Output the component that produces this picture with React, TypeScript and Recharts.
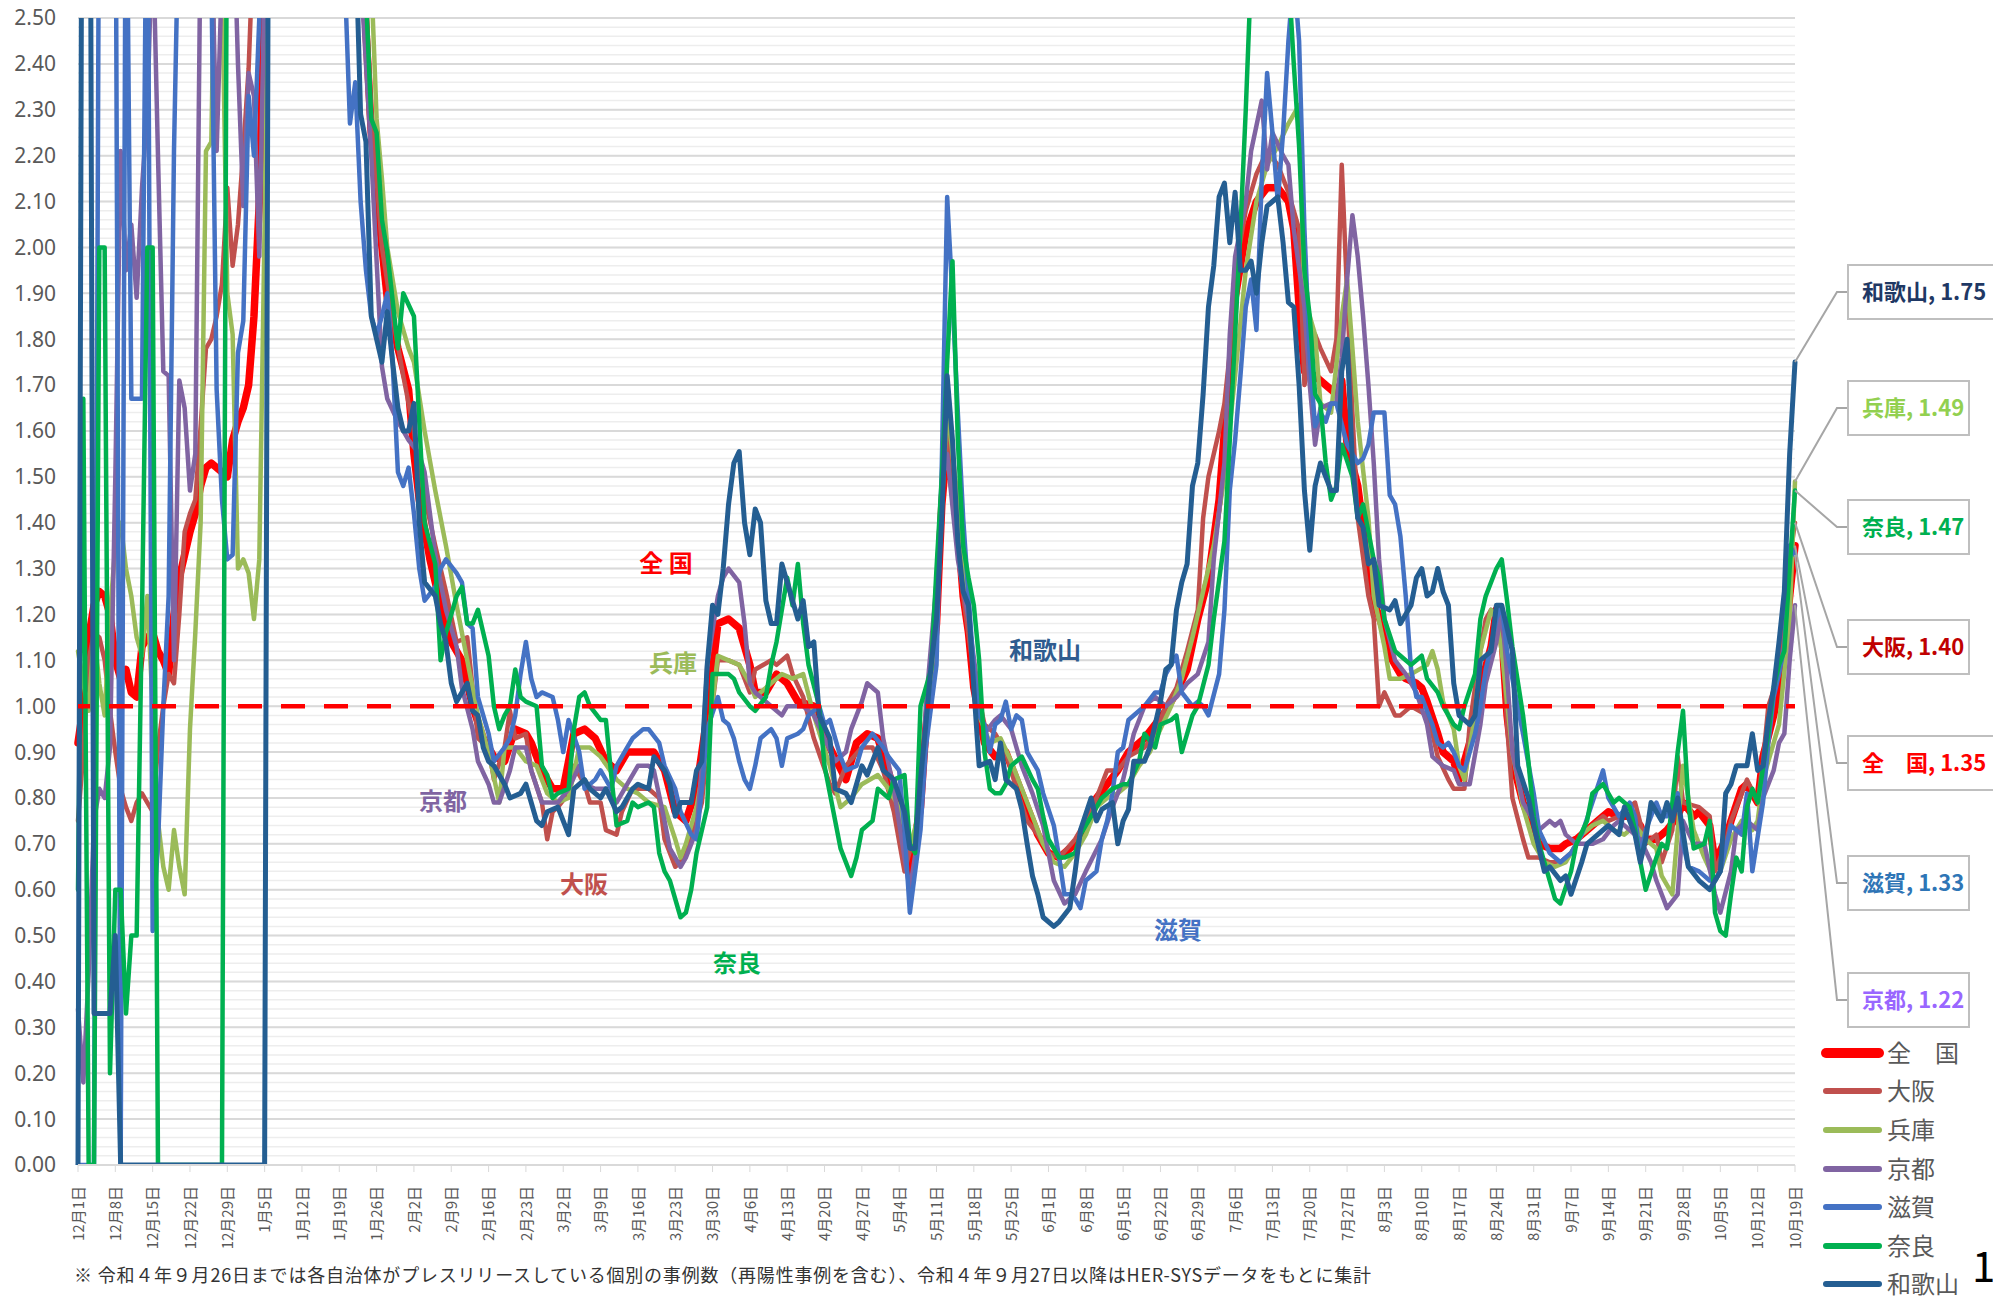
import React from 'react';
import { LineChart, Line, XAxis, YAxis, CartesianGrid, ReferenceLine } from 'recharts';

type P = [number, number];

// day index 0 = 12月1日 ... 322 = 10月19日
const zenkoku: P[] = [[0,0.92],[1,1.0],[2,1.15],[3,1.22],[4,1.25],[5,1.24],[6,1.2],[7,1.1],[8,1.06],[9,1.08],[10,1.03],[11,1.02],[12,1.13],[13,1.15],[14,1.16],[15,1.12],[16,1.1],[17,1.07],[18,1.2],[19,1.28],[20,1.33],[21,1.38],[22,1.42],[23,1.48],[24,1.52],[25,1.53],[26,1.52],[27,1.51],[28,1.5],[29,1.58],[30,1.62],[31,1.65],[32,1.7],[33,1.85],[34,2.1],[35,2.6],[36,3.0],[40,3.5],[45,3.6],[50,3.2],[53,2.7],[55,2.25],[57,2.0],[58,1.89],[60,1.78],[62,1.69],[63,1.55],[64,1.45],[66,1.32],[68,1.22],[70,1.14],[72,1.1],[74,1.0],[76,0.93],[78,0.89],[80,0.88],[82,0.95],[84,0.94],[85,0.92],[87,0.86],[89,0.82],[91,0.82],[93,0.94],[95,0.95],[97,0.93],[99,0.88],[101,0.86],[103,0.9],[106,0.9],[108,0.9],[110,0.86],[112,0.77],[114,0.75],[116,0.82],[118,0.98],[120,1.18],[122,1.19],[124,1.17],[126,1.09],[127,1.03],[129,1.03],[131,1.07],[133,1.05],[135,1.01],[138,1.0],[141,0.91],[144,0.84],[146,0.92],[148,0.94],[150,0.93],[153,0.82],[155,0.72],[156,0.64],[158,0.78],[159,0.95],[161,1.18],[162,1.44],[163,1.57],[165,1.39],[166,1.24],[167,1.16],[168,1.04],[170,0.92],[172,0.89],[174,0.9],[176,0.84],[178,0.78],[180,0.72],[182,0.68],[184,0.67],[187,0.7],[189,0.74],[191,0.8],[193,0.83],[195,0.86],[197,0.9],[200,0.93],[202,0.96],[204,0.99],[206,1.03],[208,1.08],[210,1.19],[212,1.28],[214,1.45],[215,1.6],[216,1.72],[217,1.89],[219,2.03],[221,2.1],[223,2.13],[225,2.13],[227,2.1],[228,2.04],[229,1.87],[230,1.73],[232,1.72],[234,1.7],[236,1.68],[237,1.71],[238,1.57],[240,1.48],[241,1.39],[242,1.3],[243,1.23],[245,1.16],[246,1.11],[248,1.07],[249,1.06],[251,1.05],[252,1.04],[253,1.01],[255,0.94],[256,0.9],[258,0.88],[259,0.84],[261,0.92],[262,0.98],[263,1.04],[265,1.13],[266,1.21],[267,1.16],[268,0.98],[269,0.88],[271,0.79],[273,0.73],[274,0.7],[276,0.69],[278,0.69],[279,0.7],[281,0.71],[283,0.73],[285,0.75],[287,0.77],[289,0.76],[291,0.76],[293,0.74],[294,0.71],[296,0.71],[298,0.73],[300,0.76],[301,0.79],[303,0.76],[304,0.77],[306,0.74],[307,0.66],[309,0.71],[310,0.75],[312,0.82],[313,0.83],[315,0.79],[316,0.89],[318,0.98],[319,1.04],[320,1.12],[321,1.24],[322,1.35]];

const osaka: P[] = [[0,0.75],[1,0.9],[2,1.1],[3,1.16],[4,1.15],[5,1.1],[6,0.99],[7,0.9],[8,0.82],[9,0.78],[10,0.75],[11,0.79],[12,0.81],[13,0.79],[14,0.77],[15,0.91],[16,1.0],[17,1.07],[18,1.05],[19,1.2],[20,1.38],[21,1.42],[22,1.45],[23,1.61],[24,1.78],[25,1.8],[26,1.85],[27,1.92],[28,2.13],[29,1.96],[30,2.05],[31,2.21],[32,2.39],[33,2.7],[34,3.0],[40,3.6],[45,3.7],[50,3.3],[53,2.8],[55,2.3],[57,2.0],[59,1.85],[61,1.72],[63,1.6],[64,1.51],[67,1.35],[69,1.25],[71,1.14],[73,1.15],[74,1.04],[75,0.93],[77,0.91],[78,0.84],[80,0.91],[81,0.99],[82,0.93],[84,0.94],[85,0.86],[87,0.79],[88,0.71],[89,0.77],[90,0.78],[92,0.81],[93,0.87],[95,0.83],[96,0.79],[98,0.79],[99,0.73],[101,0.72],[102,0.77],[104,0.82],[107,0.82],[109,0.8],[110,0.71],[112,0.65],[113,0.66],[115,0.71],[117,0.79],[118,0.91],[120,1.1],[122,1.1],[124,1.09],[126,1.03],[127,1.08],[130,1.1],[131,1.09],[133,1.11],[134,1.07],[136,1.02],[138,0.93],[141,0.83],[142,0.81],[144,0.87],[147,0.91],[149,0.91],[151,0.86],[153,0.77],[155,0.64],[157,0.73],[159,0.91],[160,1.09],[161,1.27],[162,1.45],[163,1.6],[164,1.45],[165,1.35],[166,1.24],[168,1.07],[170,0.96],[172,0.94],[174,0.9],[176,0.82],[178,0.75],[180,0.72],[182,0.68],[184,0.67],[187,0.71],[189,0.75],[191,0.8],[193,0.86],[195,0.86],[197,0.89],[200,0.91],[202,0.94],[204,1.0],[206,1.04],[208,1.12],[210,1.21],[211,1.41],[212,1.5],[214,1.6],[215,1.66],[216,1.77],[217,1.95],[219,2.08],[221,2.16],[223,2.21],[225,2.18],[227,2.12],[229,2.04],[230,1.7],[232,1.81],[233,1.78],[235,1.73],[236,1.8],[237,2.18],[238,1.9],[239,1.64],[240,1.41],[242,1.24],[243,1.19],[244,1.0],[245,1.03],[247,0.98],[248,0.98],[250,1.0],[253,0.98],[254,0.94],[255,0.89],[257,0.84],[258,0.82],[260,0.82],[261,0.96],[263,1.12],[264,1.19],[265,1.21],[267,1.19],[268,0.96],[269,0.8],[271,0.71],[272,0.67],[274,0.67],[276,0.66],[278,0.66],[280,0.68],[282,0.72],[284,0.74],[286,0.76],[287,0.75],[289,0.76],[291,0.78],[292,0.79],[294,0.7],[296,0.72],[297,0.66],[299,0.73],[300,0.89],[301,0.79],[304,0.78],[306,0.76],[307,0.64],[309,0.7],[310,0.75],[312,0.81],[313,0.84],[315,0.79],[316,0.88],[317,1.0],[319,1.07],[320,1.19],[321,1.32],[322,1.4]];

const hyogo: P[] = [[0,1.12],[1,1.05],[2,0.99],[3,1.16],[4,1.05],[5,0.98],[6,1.2],[7,1.35],[8,1.4],[9,1.3],[10,1.24],[11,1.15],[12,1.11],[13,1.24],[14,1.0],[15,0.75],[16,0.65],[17,0.6],[18,0.73],[19,0.65],[20,0.59],[21,0.95],[22,1.16],[23,1.4],[24,2.21],[25,2.23],[26,2.9],[27,2.6],[28,1.9],[29,1.81],[30,1.3],[31,1.32],[32,1.29],[33,1.19],[34,1.32],[35,2.05],[36,3.0],[40,3.5],[45,3.6],[50,3.4],[54,2.9],[56,2.28],[57,2.15],[58,2.0],[60,1.86],[62,1.78],[63,1.75],[65,1.6],[67,1.47],[69,1.35],[71,1.22],[73,1.1],[75,0.98],[77,0.9],[79,0.79],[80,0.91],[82,0.91],[84,0.88],[86,0.87],[88,0.81],[90,0.79],[92,0.8],[94,0.91],[96,0.91],[98,0.89],[101,0.84],[103,0.82],[105,0.81],[107,0.79],[110,0.78],[112,0.71],[113,0.67],[114,0.7],[116,0.78],[118,0.91],[120,1.11],[122,1.1],[124,1.09],[126,1.05],[127,1.02],[130,1.05],[132,1.07],[134,1.06],[136,1.07],[138,0.98],[141,0.87],[143,0.78],[145,0.8],[147,0.83],[150,0.85],[152,0.82],[154,0.78],[156,0.69],[158,0.78],[159,0.95],[161,1.18],[162,1.44],[163,1.65],[165,1.45],[167,1.2],[169,0.98],[171,0.92],[173,0.93],[175,0.88],[177,0.82],[179,0.76],[181,0.7],[183,0.66],[185,0.65],[187,0.68],[189,0.72],[191,0.78],[193,0.8],[195,0.81],[197,0.83],[199,0.87],[201,0.9],[203,0.95],[205,1.0],[207,1.06],[209,1.15],[211,1.25],[213,1.35],[215,1.5],[217,1.72],[219,1.95],[221,2.1],[223,2.18],[225,2.22],[227,2.27],[229,2.31],[230,1.89],[232,1.81],[233,1.66],[235,1.64],[237,1.85],[238,1.93],[239,1.78],[240,1.62],[242,1.41],[243,1.24],[245,1.13],[246,1.06],[248,1.06],[250,1.07],[253,1.09],[254,1.12],[255,1.08],[256,1.01],[258,0.95],[259,0.87],[260,0.84],[262,0.98],[263,1.12],[265,1.21],[266,1.19],[267,1.12],[269,0.9],[271,0.78],[273,0.7],[275,0.66],[277,0.65],[279,0.66],[281,0.7],[282,0.72],[284,0.74],[286,0.75],[288,0.73],[290,0.72],[292,0.74],[294,0.71],[296,0.69],[297,0.63],[299,0.59],[300,0.73],[301,0.87],[303,0.73],[305,0.67],[307,0.62],[308,0.64],[310,0.71],[312,0.75],[314,0.73],[315,0.75],[316,0.84],[318,0.92],[319,0.96],[321,1.19],[322,1.49]];

const kyoto: P[] = [[0,0.34],[1,0.18],[2,0.42],[3,0.75],[4,0.82],[5,0.8],[6,0.91],[7,1.5],[8,2.21],[9,1.95],[10,2.05],[11,1.89],[12,2.13],[13,2.3],[14,2.7],[15,2.2],[16,1.73],[17,1.72],[18,1.1],[19,1.71],[20,1.65],[21,1.47],[22,1.55],[23,2.7],[24,3.0],[25,2.7],[26,2.21],[27,2.6],[28,3.0],[29,2.8],[30,2.4],[31,2.09],[32,2.38],[33,2.33],[34,1.98],[35,2.6],[36,3.0],[40,3.6],[45,3.7],[50,3.2],[53,2.6],[55,2.2],[57,1.74],[58,1.67],[60,1.62],[62,1.58],[64,1.55],[65,1.51],[67,1.33],[69,1.21],[71,1.13],[72,1.04],[74,0.95],[75,0.88],[77,0.83],[78,0.79],[79,0.79],[81,0.86],[82,0.91],[84,0.91],[85,0.86],[87,0.79],[88,0.79],[90,0.79],[92,0.82],[94,0.87],[95,0.83],[97,0.82],[99,0.82],[101,0.79],[103,0.83],[105,0.87],[107,0.87],[108,0.86],[110,0.75],[111,0.69],[113,0.65],[114,0.67],[116,0.73],[117,0.87],[118,1.09],[120,1.24],[121,1.28],[122,1.3],[124,1.27],[125,1.18],[126,1.05],[127,1.03],[129,1.01],[130,1.0],[132,0.98],[133,1.0],[136,1.0],[138,0.98],[140,0.93],[142,0.88],[144,0.9],[145,0.95],[147,1.01],[148,1.05],[150,1.03],[151,0.93],[153,0.82],[155,0.67],[156,0.6],[158,0.75],[159,1.0],[161,1.27],[162,1.49],[163,1.55],[165,1.32],[167,1.19],[169,1.02],[170,0.94],[172,0.97],[173,0.98],[175,0.95],[177,0.87],[179,0.81],[181,0.74],[183,0.62],[185,0.57],[187,0.59],[189,0.64],[192,0.71],[194,0.78],[196,0.84],[198,0.94],[200,1.0],[202,1.02],[204,1.0],[206,1.02],[208,1.05],[210,1.07],[212,1.14],[213,1.32],[215,1.53],[216,1.81],[217,1.98],[219,2.1],[220,2.21],[222,2.32],[223,2.17],[224,2.25],[226,2.2],[227,2.18],[228,2.04],[230,1.87],[231,1.7],[232,1.57],[233,1.65],[235,1.66],[236,1.66],[237,1.76],[238,1.93],[239,2.07],[240,1.98],[241,1.85],[242,1.7],[243,1.53],[244,1.32],[245,1.19],[247,1.1],[249,1.07],[251,1.03],[253,0.96],[254,0.89],[256,0.87],[258,0.86],[259,0.83],[261,0.83],[263,0.96],[264,1.05],[266,1.14],[267,1.21],[268,1.07],[269,0.9],[271,0.79],[274,0.73],[276,0.75],[277,0.74],[278,0.75],[279,0.72],[281,0.7],[283,0.7],[284,0.7],[286,0.71],[288,0.74],[289,0.75],[291,0.73],[293,0.71],[295,0.66],[296,0.62],[298,0.56],[300,0.59],[301,0.75],[303,0.7],[305,0.7],[307,0.59],[308,0.55],[310,0.64],[311,0.73],[313,0.75],[315,0.73],[316,0.8],[318,0.86],[319,0.92],[320,0.94],[321,1.1],[322,1.22]];

const shiga: P[] = [[0,0],[1,0],[2,0],[3,0],[4,3.0],[5,3.5],[6,3.5],[7,3.0],[8,0],[9,3.0],[10,1.67],[11,1.67],[12,1.67],[13,3.0],[14,0.51],[15,0.7],[16,1.0],[17,1.24],[18,2.21],[19,2.8],[20,3.0],[22,3.0],[24,2.8],[25,2.6],[26,1.69],[27,1.45],[28,1.32],[29,1.33],[30,1.77],[31,1.84],[32,2.33],[33,2.2],[34,2.5],[35,3.0],[40,3.6],[45,3.7],[49,3.2],[50,2.6],[51,2.27],[52,2.36],[53,2.1],[54,1.95],[55,1.85],[56,1.81],[57,1.85],[58,1.9],[59,1.75],[60,1.51],[61,1.48],[62,1.52],[63,1.42],[64,1.3],[65,1.23],[67,1.26],[68,1.3],[69,1.32],[71,1.29],[72,1.27],[73,1.18],[74,1.17],[75,1.02],[77,0.94],[78,0.88],[80,0.91],[81,0.93],[82,0.98],[83,1.07],[84,1.14],[85,1.06],[86,1.02],[87,1.03],[89,1.02],[90,0.97],[91,0.9],[92,0.97],[94,0.9],[95,0.82],[97,0.84],[98,0.86],[100,0.82],[101,0.87],[103,0.91],[104,0.93],[106,0.95],[107,0.95],[109,0.92],[110,0.87],[112,0.82],[113,0.77],[115,0.72],[116,0.71],[117,0.82],[118,0.95],[120,1.02],[121,0.97],[122,0.96],[123,0.93],[124,0.88],[125,0.84],[126,0.82],[127,0.87],[128,0.93],[130,0.95],[131,0.93],[132,0.87],[133,0.93],[135,0.94],[136,0.95],[137,0.98],[139,1.0],[140,0.96],[141,0.97],[143,0.89],[144,0.86],[146,0.87],[147,0.91],[149,0.94],[151,0.91],[152,0.89],[154,0.86],[155,0.73],[156,0.55],[158,0.73],[159,0.91],[160,1.0],[161,1.09],[162,1.53],[163,2.11],[164,1.89],[165,1.64],[166,1.41],[167,1.24],[168,1.08],[169,0.98],[170,0.96],[171,0.9],[172,0.96],[173,0.97],[174,1.01],[175,0.95],[176,0.98],[177,0.97],[178,0.9],[179,0.88],[180,0.86],[181,0.81],[183,0.74],[184,0.67],[185,0.59],[186,0.59],[187,0.58],[188,0.56],[189,0.62],[190,0.63],[191,0.64],[192,0.71],[193,0.75],[194,0.81],[195,0.9],[196,0.91],[197,0.97],[199,0.99],[200,1.0],[202,1.03],[203,1.03],[204,1.07],[206,1.11],[207,1.03],[209,1.0],[210,1.01],[211,1.0],[212,0.98],[214,1.07],[215,1.21],[216,1.47],[217,1.58],[218,1.72],[219,1.87],[220,1.93],[221,1.82],[222,2.15],[223,2.38],[224,2.25],[225,2.1],[226,2.25],[227,2.45],[228,2.6],[229,2.45],[230,2.04],[231,1.76],[232,1.61],[233,1.64],[234,1.62],[235,1.66],[236,1.66],[238,1.57],[240,1.53],[241,1.54],[242,1.57],[243,1.64],[245,1.64],[246,1.46],[247,1.44],[248,1.37],[249,1.24],[250,1.08],[251,1.02],[252,1.02],[253,0.99],[254,0.96],[255,0.92],[256,0.91],[257,0.92],[258,0.9],[259,0.87],[260,0.86],[261,0.9],[262,0.94],[263,1.0],[264,1.08],[265,1.13],[266,1.19],[267,1.22],[268,1.12],[270,1.0],[271,0.94],[273,0.81],[274,0.73],[276,0.68],[278,0.66],[280,0.68],[282,0.72],[284,0.79],[286,0.86],[287,0.8],[289,0.76],[291,0.79],[292,0.76],[293,0.67],[294,0.73],[296,0.79],[297,0.76],[298,0.76],[300,0.81],[301,0.7],[302,0.65],[304,0.64],[306,0.62],[307,0.62],[308,0.64],[310,0.74],[312,0.72],[313,0.81],[314,0.64],[316,0.79],[317,0.92],[318,1.02],[319,1.07],[320,1.13],[321,1.35],[322,1.33]];

const nara: P[] = [[0,0.6],[1,1.67],[2,0],[3,0],[4,2.0],[5,2.0],[6,0.2],[7,0.6],[8,0.6],[9,0.33],[10,0.5],[11,0.5],[12,1.2],[13,2.0],[14,2.0],[15,0],[20,0],[27,0],[28,3.0],[35,3.5],[40,3.6],[45,3.7],[50,3.5],[53,2.9],[54,2.55],[55,2.28],[56,2.25],[57,2.06],[58,1.99],[60,1.78],[61,1.9],[63,1.85],[64,1.62],[65,1.4],[67,1.31],[68,1.1],[69,1.16],[71,1.24],[72,1.26],[73,1.18],[74,1.18],[75,1.21],[77,1.11],[78,1.0],[79,0.95],[80,0.98],[81,1.0],[82,1.08],[83,1.02],[84,1.01],[86,1.0],[87,0.87],[88,0.85],[89,0.8],[90,0.81],[92,0.82],[93,0.95],[94,1.02],[95,1.03],[96,1.0],[98,0.97],[99,0.97],[100,0.85],[101,0.74],[103,0.75],[104,0.79],[105,0.78],[107,0.79],[108,0.78],[109,0.68],[110,0.64],[111,0.62],[113,0.54],[114,0.55],[115,0.6],[116,0.68],[118,0.78],[119,1.07],[120,1.07],[122,1.07],[123,1.06],[124,1.03],[126,1.0],[127,0.99],[129,1.02],[130,1.09],[131,1.14],[133,1.28],[134,1.22],[135,1.31],[136,1.18],[137,1.09],[139,1.0],[140,0.87],[142,0.75],[143,0.69],[145,0.63],[146,0.67],[147,0.73],[149,0.75],[150,0.82],[152,0.8],[153,0.84],[155,0.85],[156,0.7],[157,0.68],[158,1.0],[160,1.08],[161,1.3],[162,1.5],[163,1.75],[164,1.97],[165,1.58],[166,1.35],[167,1.28],[168,1.22],[169,1.1],[170,0.9],[171,0.82],[172,0.81],[173,0.81],[174,0.83],[175,0.87],[176,0.88],[177,0.89],[179,0.84],[180,0.82],[181,0.76],[182,0.71],[184,0.67],[185,0.67],[187,0.68],[188,0.72],[189,0.74],[191,0.78],[192,0.8],[194,0.82],[196,0.83],[197,0.83],[199,0.88],[200,0.94],[202,0.91],[203,0.96],[205,0.97],[206,0.98],[207,0.9],[209,0.98],[210,1.0],[212,1.09],[213,1.19],[215,1.36],[216,1.58],[217,1.81],[218,2.04],[219,2.3],[220,2.6],[221,3.0],[224,3.2],[226,3.0],[227,2.6],[228,2.4],[229,2.22],[230,1.95],[231,1.85],[232,1.68],[233,1.66],[234,1.53],[235,1.45],[236,1.48],[237,1.57],[239,1.5],[240,1.41],[241,1.44],[243,1.32],[244,1.28],[245,1.19],[247,1.12],[248,1.11],[250,1.09],[252,1.11],[253,1.06],[255,1.03],[256,1.0],[258,0.96],[259,0.95],[260,1.0],[262,1.07],[263,1.19],[264,1.24],[266,1.3],[267,1.32],[268,1.23],[269,1.13],[271,0.98],[272,0.88],[273,0.76],[274,0.7],[276,0.62],[277,0.58],[278,0.57],[280,0.64],[281,0.7],[283,0.75],[284,0.81],[286,0.83],[287,0.81],[288,0.79],[289,0.8],[291,0.78],[292,0.73],[293,0.66],[294,0.6],[296,0.67],[297,0.7],[298,0.69],[299,0.79],[300,0.9],[301,0.99],[302,0.79],[303,0.69],[305,0.7],[306,0.75],[307,0.55],[308,0.51],[309,0.5],[310,0.59],[311,0.67],[312,0.64],[313,0.78],[314,0.82],[315,0.79],[317,0.94],[318,1.04],[319,1.09],[320,1.12],[321,1.3],[322,1.47]];

const wakayama: P[] = [[0,0],[1,4.0],[2,4.0],[3,0.33],[4,0.33],[5,0.33],[6,0.33],[7,0.5],[8,0],[15,0],[22,0],[29,0],[35,0],[36,4.0],[40,4.0],[45,4.0],[50,3.8],[52,2.7],[53,2.29],[54,2.23],[55,1.85],[56,1.8],[57,1.75],[58,1.86],[59,1.75],[60,1.65],[61,1.6],[62,1.6],[63,1.66],[64,1.4],[65,1.27],[67,1.24],[68,1.18],[69,1.14],[70,1.05],[71,1.01],[73,1.05],[74,0.99],[75,0.98],[76,0.91],[77,0.88],[78,0.87],[80,0.83],[81,0.8],[83,0.81],[84,0.83],[86,0.75],[87,0.74],[88,0.77],[90,0.78],[92,0.72],[93,0.82],[95,0.84],[96,0.82],[98,0.8],[99,0.82],[101,0.77],[102,0.78],[104,0.82],[105,0.83],[107,0.82],[108,0.89],[110,0.86],[111,0.83],[112,0.76],[113,0.79],[115,0.79],[116,0.86],[117,0.88],[118,1.09],[119,1.22],[120,1.2],[121,1.3],[122,1.44],[123,1.53],[124,1.555],[125,1.4],[126,1.33],[127,1.43],[128,1.4],[129,1.23],[130,1.18],[131,1.18],[132,1.31],[134,1.23],[135,1.19],[136,1.23],[137,1.13],[138,1.14],[139,0.98],[141,0.93],[142,0.82],[144,0.81],[145,0.79],[147,0.87],[148,0.85],[150,0.91],[151,0.86],[153,0.84],[155,0.77],[156,0.69],[157,0.69],[158,0.84],[159,0.96],[160,1.09],[161,1.19],[162,1.41],[163,1.72],[164,1.58],[165,1.36],[166,1.25],[167,1.22],[168,1.04],[169,0.87],[171,0.88],[172,0.84],[173,0.92],[174,0.84],[176,0.82],[177,0.775],[178,0.7],[179,0.63],[180,0.59],[181,0.54],[183,0.52],[184,0.53],[186,0.56],[187,0.64],[188,0.73],[190,0.8],[191,0.75],[192,0.775],[194,0.79],[195,0.7],[196,0.75],[197,0.775],[198,0.88],[200,0.88],[201,0.91],[202,0.96],[203,1.01],[204,1.08],[205,1.09],[206,1.21],[207,1.27],[208,1.31],[209,1.48],[210,1.53],[211,1.68],[212,1.87],[213,1.96],[214,2.11],[215,2.14],[216,2.01],[217,2.12],[218,1.95],[219,1.95],[220,1.97],[221,1.9],[222,2.01],[223,2.09],[224,2.1],[225,2.11],[226,2.01],[227,1.88],[228,1.87],[229,1.7],[230,1.47],[231,1.34],[232,1.48],[233,1.53],[235,1.47],[236,1.47],[237,1.73],[238,1.8],[239,1.53],[240,1.41],[241,1.39],[242,1.31],[243,1.32],[244,1.22],[246,1.21],[247,1.23],[248,1.18],[250,1.22],[251,1.28],[252,1.3],[253,1.24],[254,1.25],[255,1.3],[256,1.25],[257,1.22],[258,1.05],[259,0.98],[261,0.96],[262,0.98],[263,1.1],[265,1.12],[266,1.22],[267,1.22],[269,1.12],[270,0.87],[272,0.8],[273,0.74],[275,0.64],[276,0.65],[278,0.62],[279,0.63],[280,0.59],[282,0.66],[283,0.7],[285,0.72],[287,0.74],[288,0.73],[289,0.72],[290,0.78],[292,0.72],[293,0.66],[294,0.71],[295,0.79],[297,0.75],[298,0.79],[299,0.75],[300,0.8],[302,0.65],[304,0.62],[305,0.61],[306,0.6],[308,0.64],[309,0.81],[310,0.83],[311,0.87],[313,0.87],[314,0.94],[315,0.86],[316,0.87],[317,0.97],[318,1.04],[319,1.14],[320,1.25],[321,1.55],[322,1.75]];

const xTickDays = [0,7,14,21,28,35,42,49,56,63,70,77,84,91,98,105,112,119,126,133,140,147,154,161,168,175,182,189,196,203,210,217,224,231,238,245,252,259,266,273,280,287,294,301,308,315,322];
const xTickLabels = ['12月1日','12月8日','12月15日','12月22日','12月29日','1月5日','1月12日','1月19日','1月26日','2月2日','2月9日','2月16日','2月23日','3月2日','3月9日','3月16日','3月23日','3月30日','4月6日','4月13日','4月20日','4月27日','5月4日','5月11日','5月18日','5月25日','6月1日','6月8日','6月15日','6月22日','6月29日','7月6日','7月13日','7月20日','7月27日','8月3日','8月10日','8月17日','8月24日','8月31日','9月7日','9月14日','9月21日','9月28日','10月5日','10月12日','10月19日'];
const yTicks = [0,0.1,0.2,0.3,0.4,0.5,0.6,0.7,0.8,0.9,1.0,1.1,1.2,1.3,1.4,1.5,1.6,1.7,1.8,1.9,2.0,2.1,2.2,2.3,2.4,2.5];
const yMinor = Array.from({ length: 126 }, (_, i) => Math.round(i * 2) / 100);

const FONT = '"Noto Sans CJK JP", "Noto Sans", sans-serif';

type Cfg = { key: string; legend: string; endName: string; data: P[]; color: string; width: number; labelColor: string; boxY: number; boxW: number };

const series: Cfg[] = [
  { key: 'zenkoku', legend: '全　国', endName: '全　国', data: zenkoku, color: '#FF0000', width: 7.5, labelColor: '#FF0000', boxY: 763, boxW: 150 },
  { key: 'osaka', legend: '大阪', endName: '大阪', data: osaka, color: '#C0504D', width: 4.5, labelColor: '#C00000', boxY: 647, boxW: 121 },
  { key: 'hyogo', legend: '兵庫', endName: '兵庫', data: hyogo, color: '#9BBB59', width: 4.5, labelColor: '#92D050', boxY: 408, boxW: 121 },
  { key: 'kyoto', legend: '京都', endName: '京都', data: kyoto, color: '#8064A2', width: 4.5, labelColor: '#9966FF', boxY: 1000, boxW: 121 },
  { key: 'shiga', legend: '滋賀', endName: '滋賀', data: shiga, color: '#4472C4', width: 4.5, labelColor: '#2E75B6', boxY: 883, boxW: 121 },
  { key: 'nara', legend: '奈良', endName: '奈良', data: nara, color: '#00B050', width: 4.5, labelColor: '#00B050', boxY: 527, boxW: 121 },
  { key: 'wakayama', legend: '和歌山', endName: '和歌山', data: wakayama, color: '#245E92', width: 5, labelColor: '#1F3864', boxY: 292, boxW: 150 },
];

const innerLabels = [
  { text: '全 国', x: 666, y: 563, color: '#FF0000' },
  { text: '兵庫', x: 673, y: 663, color: '#9BBB59' },
  { text: '京都', x: 443, y: 801, color: '#8064A2' },
  { text: '大阪', x: 584, y: 884, color: '#C0504D' },
  { text: '奈良', x: 737, y: 963, color: '#00B050' },
  { text: '和歌山', x: 1045, y: 650, color: '#2F5C8F' },
  { text: '滋賀', x: 1178, y: 930, color: '#4472C4' },
];

const legendY = [1053, 1091, 1130, 1169, 1207, 1246, 1284];

const XTick = (props: any) => {
  const { x, y, payload } = props;
  const i = xTickDays.indexOf(payload.value);
  const label = i >= 0 ? xTickLabels[i] : '';
  return (
    <text transform={`translate(${x},${y + 12}) rotate(-90)`} textAnchor="end" dy="0.38em" fontSize={15} fill="#595959" fontFamily={FONT}>
      {label}
    </text>
  );
};

const makeEndLabel = (cfg: Cfg) => (props: any) => {
  if (props.index !== cfg.data.length - 1) return null;
  const px = props.x ?? props.viewBox?.x;
  const py = props.y ?? props.viewBox?.y;
  if (px == null || py == null) return null;
  const v = cfg.data[cfg.data.length - 1][1].toFixed(2);
  return (
    <g>
      <polyline points={`${px},${py} 1837,${cfg.boxY} 1848,${cfg.boxY}`} fill="none" stroke="#A6A6A6" strokeWidth={2} />
      <rect x={1848} y={cfg.boxY - 27} width={cfg.boxW} height={54} fill="#FFFFFF" stroke="#BFBFBF" strokeWidth={2} />
      <text x={1862} y={cfg.boxY} dy="0.36em" fill={cfg.labelColor} fontSize={22} fontWeight="bold" fontFamily={FONT}>
        {`${cfg.endName}, ${v}`}
      </text>
    </g>
  );
};

export default function App() {
  return (
    <div style={{ position: 'absolute', left: 0, top: 0, width: 1993, height: 1297, background: '#FFFFFF', overflow: 'hidden' }}>
      <LineChart width={1993} height={1297} margin={{ top: 18, right: 198, left: 18, bottom: 42 }} style={{ fontFamily: FONT }}>
        <CartesianGrid vertical={false} horizontalValues={yMinor} stroke="#EDEDED" strokeWidth={1.5} />
        <CartesianGrid vertical={false} horizontalValues={yTicks} stroke="#D9D9D9" strokeWidth={2} />
        <XAxis
          type="number"
          dataKey="d"
          domain={[0, 322]}
          ticks={xTickDays}
          interval={0}
          tick={<XTick />}
          tickSize={7}
          tickMargin={2}
          tickLine={{ stroke: '#D9D9D9' }}
          axisLine={{ stroke: '#D9D9D9', strokeWidth: 2 }}
          height={90}
          allowDuplicatedCategory={false}
        />
        <YAxis
          type="number"
          domain={[0, 2.5]}
          allowDataOverflow
          ticks={yTicks}
          interval={0}
          tickFormatter={(v: number) => v.toFixed(2)}
          tick={{ fontSize: 21, fill: '#595959', fontFamily: '"Noto Sans", sans-serif' }}
          tickSize={0}
          tickMargin={22}
          axisLine={false}
          tickLine={false}
          width={60}
        />
        {series.map((s) => (
          <Line
            key={s.key}
            data={s.data.map(([d, v]) => ({ d, v }))}
            dataKey="v"
            name={s.legend}
            type="linear"
            stroke={s.color}
            strokeWidth={s.width}
            strokeLinejoin="round"
            strokeLinecap="round"
            dot={false}
            activeDot={false}
            isAnimationActive={false}
            label={makeEndLabel(s)}
          />
        ))}
        <ReferenceLine y={1} stroke="#FF0000" strokeWidth={4.5} strokeDasharray="24 19" strokeDashoffset={12} />
      </LineChart>
      <svg width={1993} height={1297} style={{ position: 'absolute', left: 0, top: 0, pointerEvents: 'none' }}>
        {innerLabels.map((l) => (
          <text key={l.text} x={l.x} y={l.y} textAnchor="middle" dy="0.36em" fill={l.color} fontSize={24} fontWeight="bold" fontFamily={FONT}>
            {l.text}
          </text>
        ))}
        {series.map((s, i) => (
          <g key={s.key}>
            <line x1={1826} x2={1879} y1={legendY[i]} y2={legendY[i]} stroke={s.color} strokeWidth={i === 0 ? 10 : 6} strokeLinecap="round" />
            <text x={1887} y={legendY[i]} dy="0.36em" fontSize={24} fill="#595959" fontFamily={FONT}>
              {s.legend}
            </text>
          </g>
        ))}
        <text x={74} y={1282} fontSize={18} fill="#333333" fontFamily={FONT} textLength={1297} lengthAdjust="spacing">
          ※ 令和４年９月26日までは各自治体がプレスリリースしている個別の事例数（再陽性事例を含む）、令和４年９月27日以降はHER-SYSデータをもとに集計
        </text>
        <text x={1972} y={1282} fontSize={42} fill="#000000" fontFamily={FONT}>1</text>
      </svg>
    </div>
  );
}
